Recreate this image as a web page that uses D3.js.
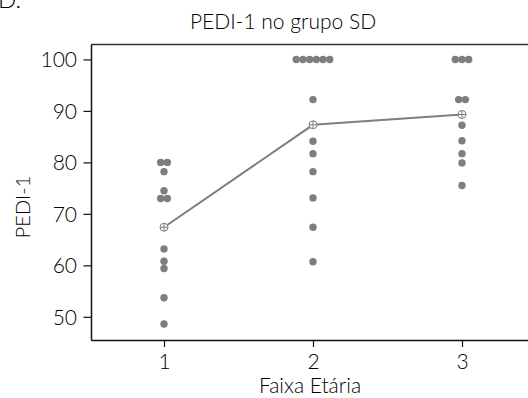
<!DOCTYPE html>
<html><head><meta charset="utf-8">
<script src="https://cdn.jsdelivr.net/npm/d3@7"></script>
<style>body{margin:0;background:#fff}svg{display:block}text{font-family:Lato,"Open Sans",sans-serif;font-weight:300;fill:#000}</style>
</head><body><svg id="c" width="528" height="398"></svg>
<script>
const groups = [1, 2, 3];
const values1 = [80, 80, 78.2, 74.5, 73, 73, 63.2, 60.8, 59.4, 53.7, 48.6];
const values2 = [100, 100, 100, 100, 100, 100, 92.2, 84.1, 81.7, 78.2, 73.1, 67.4, 60.7];
const values3 = [100, 100, 100, 92.2, 92.2, 87.2, 84.2, 81.7, 79.9, 75.5];
const means = [67.4, 87.3, 89.3];
const yTicks = [50, 60, 70, 80, 90, 100];
const title = "PEDI-1 no grupo SD";
const xLabel = "Faixa Etária";
const yLabel = "PEDI-1";
const panel = "D.";

const svg = d3.select("#c");
const x = d3.scaleLinear().domain([0.51, 3.49]).range([91, 535]);
const y = d3.scaleLinear().domain([45.5, 102.9]).range([340, 44.5]);
const grey = "#7d7d82";

svg.append("line").attr("x1", 91).attr("x2", 528).attr("y1", y(102.9)).attr("y2", y(102.9))
  .attr("stroke", "#333").attr("stroke-width", 1.5);

const xAxis = svg.append("g").attr("transform", "translate(0,340)")
  .call(d3.axisBottom(x).tickValues(groups).tickFormat(d3.format("d")).tickSize(7).tickSizeOuter(0));
const yAxis = svg.append("g").attr("transform", "translate(91,0)")
  .call(d3.axisLeft(y).tickValues(yTicks).tickSize(7.5).tickSizeOuter(0));
[xAxis, yAxis].forEach(a => {
  a.select(".domain").attr("stroke", "#111").attr("stroke-width", 1.5);
  a.selectAll(".tick line").attr("stroke", "#111").attr("stroke-width", 1.2);
  a.selectAll("text").style("font-family", "Lato, sans-serif").style("font-weight", "300")
    .style("font-size", "21px").attr("fill", "#000");
});
xAxis.selectAll("text").attr("dy", "0.95em").attr("y", 9);
yAxis.selectAll("text").attr("x", -14).attr("dy", "0.35em");

const all = [values1, values2, values3];
const pts = [];
all.forEach((vals, gi) => {
  const counts = d3.rollup(vals, v => v.length, v => v);
  const seen = new Map();
  vals.forEach(v => {
    const n = counts.get(v);
    const i = seen.get(v) || 0; seen.set(v, i + 1);
    pts.push({ g: groups[gi], v, off: (i - (n - 1) / 2) * 6.7 });
  });
});
svg.append("g").selectAll("circle").data(pts).join("circle")
  .attr("cx", d => x(d.g) + d.off).attr("cy", d => y(d.v)).attr("r", 3.7).attr("fill", grey);

const md = groups.map((g, i) => ({ g, m: means[i] }));
svg.append("path").datum(md)
  .attr("d", d3.line().x(d => x(d.g)).y(d => y(d.m)))
  .attr("fill", "none").attr("stroke", grey).attr("stroke-width", 2);
const mk = svg.append("g").selectAll("g").data(md).join("g")
  .attr("transform", d => `translate(${x(d.g)},${y(d.m)})`);
mk.append("circle").attr("r", 4).attr("fill", "#fff").attr("stroke", grey).attr("stroke-width", 1);
mk.append("path").attr("d", "M-4,0H4M0,-4V4").attr("stroke", grey).attr("stroke-width", 1);

svg.append("text").attr("x", 283).attr("y", 29).attr("text-anchor", "middle").style("font-size", "21px").text(title);
svg.append("text").attr("x", 310).attr("y", 393).attr("text-anchor", "middle").style("font-size", "21px").text(xLabel);
svg.append("text").attr("transform", "translate(30,207) rotate(-90)").attr("text-anchor", "middle").style("font-size", "20px").text(yLabel);
svg.append("text").attr("x", -2).attr("y", 8).style("font-size", "24px").text(panel);
</script></body></html>
